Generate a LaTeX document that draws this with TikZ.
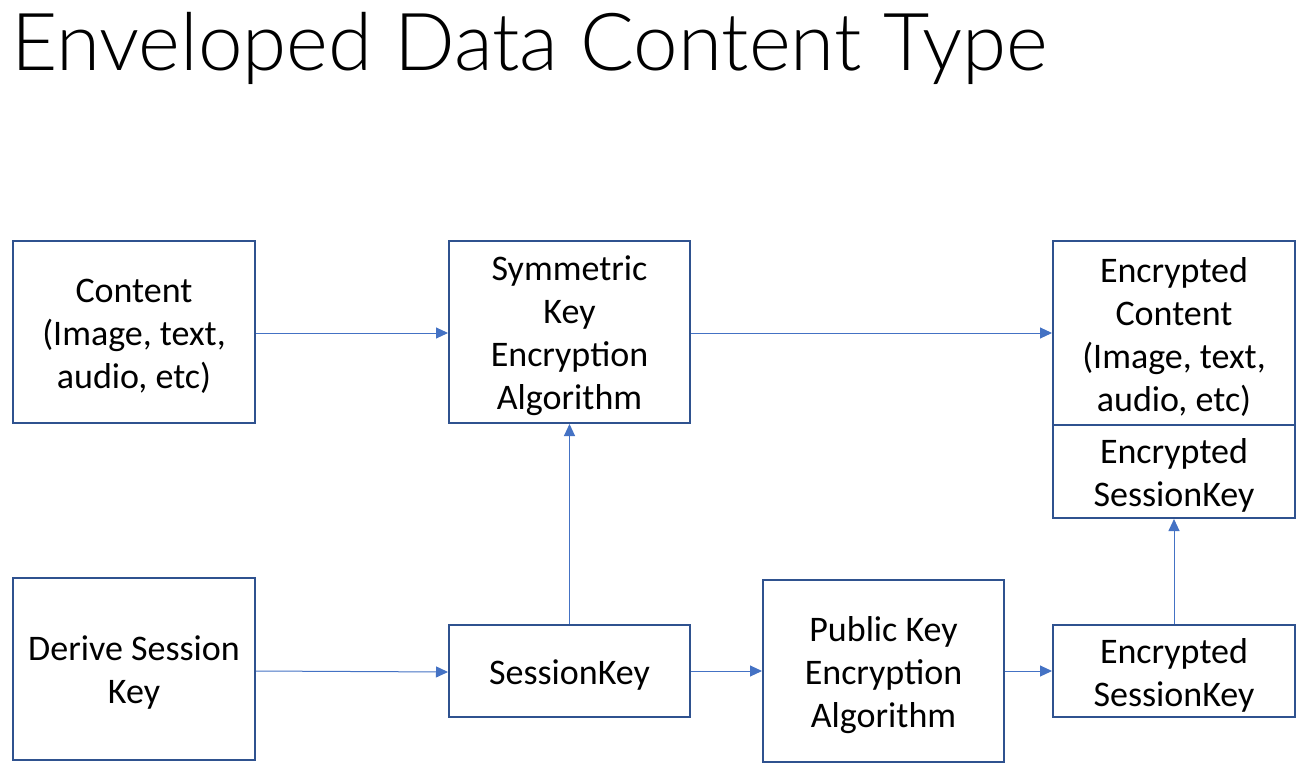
\documentclass[tikz,border=0pt]{standalone}
\usepackage{fontspec}
\setmainfont{Carlito}
\newfontfamily\titlefont{Lato}[UprightFont=* Light]
\usetikzlibrary{arrows.meta}
\definecolor{boxc}{HTML}{2F528F}
\definecolor{arrc}{HTML}{4472C4}
\tikzset{
  box/.style={draw=boxc, line width=2pt, fill=white, inner sep=0pt},
  txt/.style={align=center, inner sep=0pt, yshift=-4pt, font=\fontsize{36}{43}\selectfont},
  conn/.style={draw=arrc, line width=1pt, -{Triangle[length=12pt,width=11pt]}}
}
\begin{document}
\begin{tikzpicture}[x=1pt,y=-1pt]
\useasboundingbox[fill=white] (0,0) rectangle (1309,779);
\node[anchor=base west, font=\titlefont\fontsize{80}{90}\selectfont, inner sep=0pt] (title) at (11,70) {Enveloped Data Content Type};
\node[box, minimum width=242pt, minimum height=182pt, label={[txt]center:{Content\\(Image, text,\\audio, etc)}}] (content) at (134,332) {};
\node[box, minimum width=241pt, minimum height=182pt, label={[txt]center:{Symmetric\\Key\\Encryption\\Algorithm}}] (sym) at (569.5,332) {};
\node[box, minimum width=242pt, minimum height=184pt, label={[txt]center:{Encrypted\\Content\\(Image, text,\\audio, etc)}}] (enc) at (1174,333) {};
\node[box, minimum width=242pt, minimum height=93pt, label={[txt]center:{Encrypted\\SessionKey}}] (encsk2) at (1174,471.5) {};
\node[box, minimum width=242pt, minimum height=182pt, label={[txt]center:{Derive Session\\Key}}] (derive) at (134,669) {};
\node[box, minimum width=241pt, minimum height=92pt, label={[txt]center:{SessionKey}}] (sk) at (569.5,671) {};
\node[box, minimum width=241pt, minimum height=182pt, label={[txt]center:{Public Key\\Encryption\\Algorithm}}] (pub) at (883.5,671) {};
\node[box, minimum width=242pt, minimum height=92pt, label={[txt]center:{Encrypted\\SessionKey}}] (encsk) at (1174,671) {};
\draw[conn] (content.east |- 0,333) -- (sym.west |- 0,333);
\draw[conn] (sym.east |- 0,333) -- (enc.west |- 0,333);
\draw[conn] (sk.north) -- (sym.south);
\draw[conn] (derive.east |- 0,671) -- (sk.west |- 0,672);
\draw[conn] (sk.east) -- (pub.west |- sk.east);
\draw[conn] (pub.east |- encsk.west) -- (encsk.west);
\draw[conn] (encsk.north) -- (encsk2.south);
\end{tikzpicture}
\end{document}
